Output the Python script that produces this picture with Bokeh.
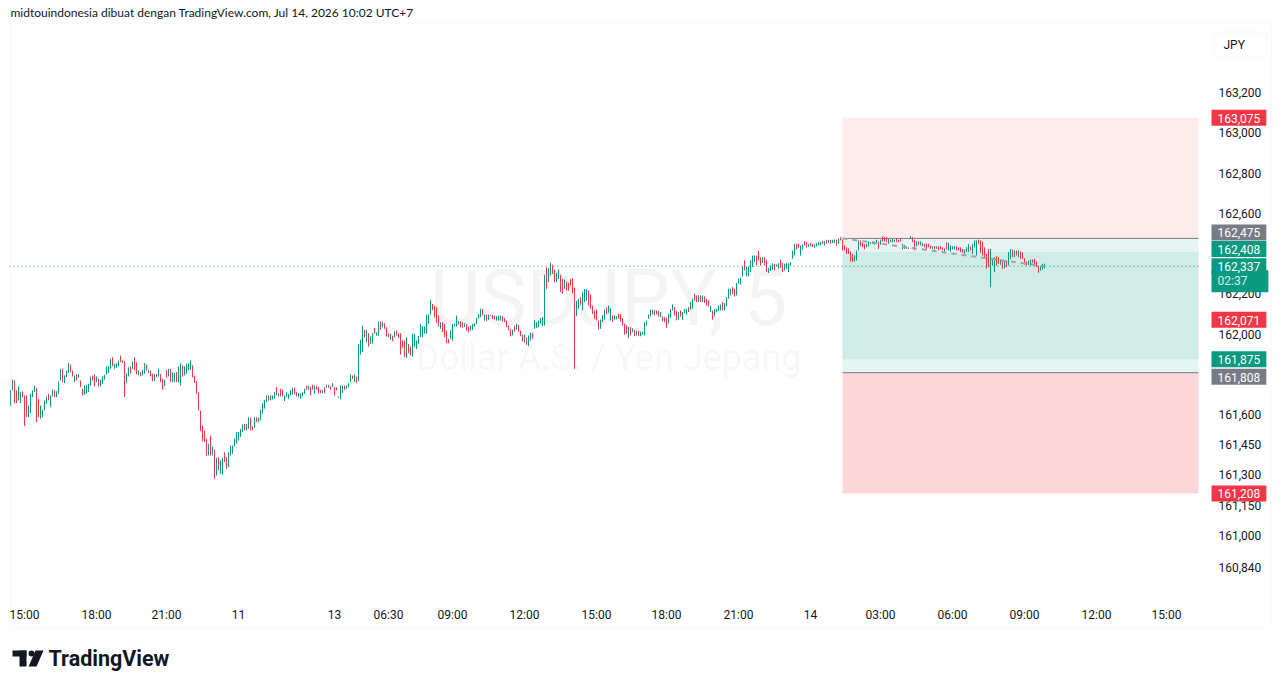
from bokeh.plotting import figure
from bokeh.models import (Range1d, FixedTicker, Label, BoxAnnotation, PolyAnnotation,
                          ColumnDataSource, CustomJSTickFormatter)
from bokeh.embed import file_html
from bokeh.resources import INLINE

# ---------------- data (USDJPY, 5 min) ----------------
highs = [
161.723,161.773,161.769,161.720,161.740,161.711,161.715,161.695,161.695,161.645,
161.703,161.720,161.744,161.733,161.678,161.645,161.624,161.670,161.690,161.703,
161.695,161.725,161.720,161.716,161.764,161.827,161.827,161.794,161.819,161.857,
161.849,161.819,161.794,161.802,161.799,161.769,161.728,161.744,161.748,161.753,
161.789,161.794,161.799,161.789,161.778,161.773,161.789,161.797,161.839,161.839,
161.877,161.885,161.852,161.855,161.869,161.893,161.869,161.865,161.806,161.835,
161.839,161.865,161.885,161.860,161.819,161.811,161.822,161.855,161.849,161.822,
161.819,161.802,161.802,161.802,161.827,161.802,161.778,161.773,161.822,161.827,
161.827,161.811,161.806,161.811,161.839,161.855,161.844,161.839,161.852,161.855,
161.869,161.844,161.794,161.766,161.711,161.620,161.546,161.521,161.480,161.455,
161.496,161.441,161.425,161.385,161.388,161.372,161.385,161.413,161.388,161.413,
161.446,161.446,161.480,161.513,161.513,161.529,161.551,161.554,161.554,161.587,
161.584,161.541,161.587,161.587,161.584,161.624,161.657,161.673,161.695,161.695,
161.695,161.695,161.711,161.736,161.706,161.728,161.723,161.695,161.711,161.703,
161.720,161.733,161.733,161.711,161.706,161.706,161.711,161.728,161.744,161.744,
161.736,161.749,161.744,161.744,161.736,161.723,161.723,161.736,161.748,161.748,
161.740,161.756,161.736,161.736,161.690,161.744,161.744,161.744,161.744,161.756,
161.799,161.794,161.799,161.789,161.951,161.971,162.042,162.021,162.021,162.004,
161.988,162.004,162.031,162.009,162.062,162.062,162.062,162.054,162.034,162.004,
162.001,161.992,162.014,162.017,162.004,162.004,161.968,161.968,161.984,161.951,
161.938,162.001,162.001,161.968,161.992,162.050,162.037,162.037,162.097,162.097,
162.170,162.150,162.141,162.133,162.092,162.059,162.059,162.050,162.017,161.976,
162.017,162.050,162.050,162.092,162.064,162.064,162.059,162.054,162.050,162.037,
162.042,162.050,162.054,162.080,162.100,162.125,162.125,162.097,162.097,162.097,
162.095,162.095,162.092,162.089,162.092,162.092,162.089,162.079,162.067,162.042,
162.026,162.022,162.042,162.051,162.046,162.017,161.996,161.996,161.984,161.993,
162.006,162.006,162.067,162.059,162.067,162.079,162.084,162.294,162.332,162.327,
162.354,162.344,162.320,162.304,162.320,162.294,162.274,162.271,162.261,162.254,
162.274,162.277,162.230,162.166,162.175,162.183,162.208,162.224,162.224,162.216,
162.195,162.142,162.117,162.122,162.067,162.072,162.095,162.122,162.133,162.142,
162.128,162.092,162.092,162.089,162.100,162.100,162.079,162.051,162.042,162.034,
162.034,162.029,162.022,162.017,162.017,162.012,162.012,162.059,162.067,162.097,
162.122,162.121,162.117,162.117,162.114,162.109,162.087,162.084,162.081,162.101,
162.125,162.147,162.134,162.114,162.109,162.117,162.109,162.125,162.125,162.134,
162.159,162.175,162.200,162.192,162.192,162.192,162.192,162.187,162.175,162.167,
162.142,162.117,162.125,162.125,162.142,162.147,162.159,162.154,162.183,162.225,
162.225,162.233,162.225,162.253,162.275,162.280,162.336,162.366,162.333,162.336,
162.366,162.390,162.390,162.390,162.412,162.382,162.382,162.382,162.369,162.329,
162.341,162.352,162.349,162.346,162.352,162.369,162.352,162.349,162.352,162.352,
162.357,162.415,162.448,162.448,162.448,162.440,162.445,162.462,162.457,162.448,
162.452,162.448,162.445,162.452,162.457,162.457,162.462,162.462,162.468,162.468,
162.468,162.468,162.470,162.470,162.475,162.481,162.469,162.443,162.431,162.426,
162.410,162.398,162.390,162.415,162.465,162.465,162.453,162.448,162.448,162.460,
162.456,162.460,162.460,162.469,162.460,162.469,162.486,162.481,162.481,162.473,
162.469,162.473,162.469,162.476,162.469,162.473,162.448,162.443,162.436,162.431,
162.486,162.481,162.469,162.460,162.460,162.460,162.453,162.448,162.448,162.448,
162.440,162.436,162.436,162.436,162.436,162.436,162.431,162.426,162.456,162.453,
162.440,162.436,162.436,162.436,162.431,162.431,162.423,162.420,162.431,162.448,
162.436,162.448,162.465,162.465,162.469,162.465,162.460,162.431,162.398,162.423,
162.423,162.373,162.382,162.387,162.382,162.370,162.365,162.365,162.365,162.407,
162.423,162.420,162.415,162.415,162.415,162.410,162.407,162.377,162.360,162.365,
162.370,162.370,162.373,162.360,162.340,162.337,162.349,162.349]

lows = [
161.642,161.720,161.657,161.657,161.670,161.657,161.686,161.542,161.587,161.587,
161.607,161.686,161.711,161.562,161.587,161.579,161.587,161.620,161.653,161.670,
161.637,161.690,161.686,161.686,161.703,161.769,161.761,161.756,161.786,161.806,
161.811,161.789,161.761,161.769,161.783,161.736,161.695,161.698,161.703,161.711,
161.744,161.769,161.740,161.761,161.740,161.740,161.753,161.773,161.799,161.806,
161.827,161.839,161.827,161.832,161.839,161.860,161.855,161.686,161.756,161.789,
161.802,161.827,161.819,161.799,161.794,161.789,161.794,161.802,161.819,161.806,
161.789,161.766,161.766,161.786,161.789,161.761,161.723,161.740,161.783,161.789,
161.761,161.761,161.761,161.761,161.761,161.744,161.789,161.794,161.802,161.819,
161.822,161.786,161.756,161.703,161.620,161.518,161.468,161.463,161.397,161.397,
161.397,161.397,161.281,161.297,161.322,161.306,161.302,161.364,161.330,161.339,
161.397,161.405,161.441,161.455,161.471,161.488,161.513,161.521,161.521,161.529,
161.521,161.521,161.534,161.562,161.562,161.571,161.604,161.629,161.662,161.670,
161.670,161.675,161.678,161.695,161.690,161.690,161.690,161.667,161.686,161.677,
161.695,161.700,161.700,161.690,161.686,161.677,161.690,161.703,161.723,161.723,
161.695,161.723,161.703,161.723,161.706,161.706,161.706,161.706,161.733,161.733,
161.723,161.736,161.695,161.720,161.683,161.675,161.706,161.723,161.728,161.736,
161.761,161.777,161.761,161.756,161.766,161.898,161.910,161.984,161.959,161.938,
161.951,161.954,162.001,161.992,161.992,162.021,162.034,162.026,161.988,161.984,
161.971,161.964,161.984,161.992,161.981,161.898,161.931,161.885,161.880,161.905,
161.893,161.888,161.935,161.926,161.951,161.984,161.984,162.001,162.001,162.050,
162.097,162.120,162.084,162.054,162.037,162.026,162.009,161.984,161.954,161.954,
161.976,161.968,162.037,162.037,162.047,162.034,162.031,162.034,162.017,162.009,
162.017,162.021,162.037,162.050,162.075,162.084,162.092,162.067,162.064,162.070,
162.089,162.075,162.072,162.067,162.067,162.067,162.062,162.059,162.034,162.017,
161.988,161.993,162.012,162.022,162.012,161.989,161.963,161.956,161.946,161.940,
161.968,161.976,162.026,162.029,162.034,162.051,162.039,162.042,162.224,162.258,
162.291,162.299,162.258,162.258,162.274,162.208,162.200,162.224,162.216,162.216,
162.241,162.200,161.827,162.089,162.125,162.145,162.117,162.158,162.166,162.142,
162.125,162.100,162.075,162.067,162.022,162.026,162.059,162.072,162.100,162.105,
162.067,162.059,162.072,162.072,162.075,162.062,162.042,161.996,162.001,161.979,
161.993,162.009,161.989,161.993,161.989,161.989,161.996,161.993,162.042,162.076,
162.087,162.097,162.092,162.097,162.087,162.084,162.064,162.059,162.031,162.051,
162.081,162.117,162.092,162.068,162.071,162.087,162.071,162.104,162.097,162.109,
162.121,162.125,162.167,162.159,162.159,162.159,162.159,162.154,162.142,162.137,
162.109,162.071,162.087,162.109,162.114,162.117,162.117,162.117,162.137,162.175,
162.192,162.200,162.187,162.192,162.250,162.246,162.286,162.316,162.286,162.286,
162.308,162.333,162.357,162.341,162.366,162.341,162.352,162.341,162.308,162.303,
162.313,162.319,162.316,162.336,162.324,162.329,162.308,162.316,162.324,162.308,
162.341,162.374,162.390,162.419,162.429,162.390,162.419,162.440,162.429,162.432,
162.435,162.432,162.429,162.435,162.440,162.440,162.448,162.440,162.448,162.452,
162.448,162.452,162.452,162.440,162.448,162.465,162.415,162.415,162.398,162.398,
162.360,162.357,162.360,162.365,162.415,162.436,162.431,162.420,162.431,162.436,
162.448,162.448,162.443,162.448,162.423,162.443,162.460,162.460,162.456,162.448,
162.456,162.456,162.456,162.456,162.456,162.460,162.420,162.423,162.423,162.423,
162.473,162.456,162.415,162.436,162.443,162.440,162.436,162.431,162.420,162.431,
162.423,162.423,162.420,162.423,162.415,162.420,162.415,162.410,162.420,162.415,
162.410,162.420,162.420,162.415,162.415,162.407,162.403,162.398,162.407,162.407,
162.415,162.398,162.431,162.390,162.448,162.403,162.390,162.373,162.324,162.332,
162.233,162.340,162.307,162.340,162.349,162.344,162.324,162.327,162.332,162.340,
162.373,162.382,162.382,162.390,162.382,162.373,162.373,162.344,162.340,162.344,
162.340,162.354,162.337,162.332,162.304,162.315,162.320,162.327]

# U = close above open (teal), D = close below open (red)
directions = "".join([
"UUDDUUDDDU", "UUUDDUUUUD", "UUDUUUDUUU", "DDUDUDDUUU", "UDDUDUUUUU",
"UDUUUDDDUU", "DUDDUDUUDU", "DDUDUDDUDU", "DUUDUUDUUU", "UDDDDDDDDU",
"DUDUDUUDDU", "UUUUUUUDUU", "DDUDUUUUUD", "UUUDUDDUUU", "UUDDUUUUDU",
"DDUDDDUDUD", "DUDDDUUDUU", "UDUDUUUDUD", "UUDUUDUDDD", "UDUDDDDDUD",
"DUUUUUUUUU", "UDDDDUDDDD", "UUUUUDDUDD", "UUUUUUDUDU", "DDDUUUDDDD",
"DUDUDDDUDU", "UDUUUUUUDU", "UDDUUDDUDD", "DDDUUDUUUD", "DDDDDUUUDU",
"UDUUDDDDDU", "DUDUDUUUUU", "UDUDDUDDDU", "UUDDUDUUUD", "UUDDUDUDDD",
"UDUUUUDUUU", "UDDUUUUDUU", "UUUDDDUDDU", "UUDUUDDUUU", "UUUDDUUDDU",
"DDUUUUDUDU", "DUUDUDDDDD", "DDUUUDDDUU", "UUUUDUDDDU", "DUUDDDUUDD",
"UDDUDUUDDD", "DUDUDDDUDU", "UUUDDDDUUU", "DUUUDDDDDD", "UUUDDUDUDU",
"UDUDUDDDDU", "UDDDDUUU"])

time_tick_bars = [7, 43, 78, 114, 162, 189, 221, 257, 293, 328, 364, 400, 435, 471, 507, 543, 578]
time_tick_labels = ["15:00", "18:00", "21:00", "11", "13", "06:30", "09:00", "12:00", "15:00",
                    "18:00", "21:00", "14", "03:00", "06:00", "09:00", "12:00", "15:00"]
price_ticks = [163.2, 163.0, 162.8, 162.6, 162.2, 162.0, 161.6, 161.45, 161.3, 161.15, 161.0, 160.84]

current_price = 162.337
countdown = "02:37"
short_entry, short_stop, short_target = 162.475, 163.075, 161.875
long_entry, long_stop, long_target = 161.808, 161.208, 162.408
other_level = 162.071
position_start_bar = 416

symbol_text = "USDJPY, 5"
symbol_desc = "Dollar A.S. / Yen Jepang"
header_text = "midtouindonesia dibuat dengan TradingView.com, Jul 14, 2026 10:02 UTC+7"

# ---------------- styling ----------------
UP = "#089981"
DOWN = "#f23645"
GRAY = "#787b86"
TEXT = "#131722"
FONT = "Roboto"

W, H = 1281, 688
X0 = -5.0               # bar-unit value at the canvas left edge (2 px per bar)
PANE_START = -0.5       # left edge of the price pane (bar units)
PANE_END = 594.0        # right edge of the price pane, where the price scale begins

n = min(len(highs), len(lows), len(directions))
xs = list(range(n))
bar_colors = [UP if d == "U" else DOWN for d in directions[:n]]

# the frame spans the whole canvas so that every annotation can be drawn
p = figure(width=W, height=H, output_backend="svg", toolbar_location=None, title=None,
           x_range=Range1d(X0, X0 + W / 2), y_range=Range1d(160.239, 163.657),
           y_axis_location="right",
           min_border_left=0, min_border_right=0, min_border_top=0, min_border_bottom=0)
p.outline_line_color = None
p.background_fill_color = "white"
p.border_fill_color = "white"
p.xgrid.grid_line_color = None
p.ygrid.grid_line_color = None

for ax in (p.xaxis[0], p.yaxis[0]):
    ax.axis_line_color = None
    ax.major_tick_line_color = None
    ax.minor_tick_line_color = None
    ax.major_tick_out = 0
    ax.major_tick_in = 0
    ax.major_label_text_font = FONT
    ax.major_label_text_font_size = "12px"
    ax.major_label_text_color = TEXT

p.xaxis.ticker = FixedTicker(ticks=time_tick_bars)
p.xaxis.formatter = CustomJSTickFormatter(
    args=dict(tick_bars=time_tick_bars, tick_labels=time_tick_labels),
    code="const i = tick_bars.indexOf(Math.round(tick)); return i >= 0 ? tick_labels[i] : '';")
p.xaxis.major_label_standoff = -81

p.yaxis.ticker = FixedTicker(ticks=price_ticks)
p.yaxis.formatter = CustomJSTickFormatter(code="return tick.toFixed(3).replace('.', ',');")
p.yaxis.major_label_standoff = -63

# watermark
p.add_layout(Label(x=608, y=298, x_units="canvas", y_units="canvas", text=symbol_text,
                   text_font=FONT, text_font_size="78px", text_color="#000000", text_alpha=0.045,
                   text_align="center", text_baseline="middle", level="underlay"))
p.add_layout(Label(x=608, y=357, x_units="canvas", y_units="canvas", text=symbol_desc,
                   text_font=FONT, text_font_size="36px", text_color="#000000", text_alpha=0.045,
                   text_align="center", text_baseline="middle", level="underlay"))

# position tools (short on top, long below)
zones = ColumnDataSource(dict(
    left=[position_start_bar] * 4,
    right=[PANE_END] * 4,
    bottom=[short_entry, short_target, long_entry, long_stop],
    top=[short_stop, short_entry, long_target, long_entry],
    color=[DOWN, UP, UP, DOWN],
    alpha=[0.1, 0.1, 0.1, 0.2],
))
p.quad(left="left", right="right", bottom="bottom", top="top", fill_color="color",
       fill_alpha="alpha", line_color=None, source=zones)
p.segment(x0=[position_start_bar] * 2, x1=[PANE_END] * 2, y0=[short_entry, long_entry],
          y1=[short_entry, long_entry], line_color=GRAY, line_width=1)

# bars
p.segment(x0=xs, x1=xs, y0=lows[:n], y1=highs[:n], line_color=bar_colors, line_width=1)

# dashed line entry -> current
p.line([position_start_bar, n - 1], [short_entry, current_price], line_color="#9fa2ab",
       line_width=2, line_dash="5 5")

# current price line across the pane
p.segment(x0=[PANE_START], x1=[PANE_END], y0=[current_price], y1=[current_price],
          line_color=UP, line_dash="1 3", line_width=1)


def fmt(v):
    return f"{v:.3f}".replace(".", ",")


tags = [
    (short_stop, DOWN, 0),
    (short_entry, GRAY, 6),
    (long_target, UP, 3),
    (other_level, DOWN, 0),
    (short_target, UP, 0),
    (long_entry, GRAY, -4),
    (long_stop, DOWN, 0),
]
PAD = dict(left=6, right=6, top=4, bottom=3)
TAG_X = 1211
for price, col, off in tags:
    p.add_layout(Label(x=TAG_X, x_units="canvas", y=price, y_units="data", text=fmt(price),
                       y_offset=off, text_font=FONT, text_font_size="12px", text_color="white",
                       text_align="left", text_baseline="middle", background_fill_color=col,
                       padding=PAD))
p.add_layout(Label(x=TAG_X, x_units="canvas", y=current_price, y_units="data", text=countdown,
                   y_offset=-15, text_font=FONT, text_font_size="12px", text_color="#d8f0ec",
                   text_align="left", text_baseline="middle", background_fill_color=UP,
                   padding=dict(left=6, right=21, top=4, bottom=4)))
p.add_layout(Label(x=TAG_X, x_units="canvas", y=current_price, y_units="data", text=fmt(current_price),
                   text_font=FONT, text_font_size="12px", text_color="white",
                   text_align="left", text_baseline="middle", background_fill_color=UP,
                   padding=PAD))

# outer chart border and currency box
p.add_layout(BoxAnnotation(left=10.5, right=1270.5, top=22.5, bottom=627.5,
                           left_units="canvas", right_units="canvas", top_units="canvas",
                           bottom_units="canvas", fill_color=None, line_color="#e0e3eb",
                           line_width=1, level="overlay"))
p.add_layout(BoxAnnotation(left=1213.5, right=1266.5, top=31.5, bottom=56.5,
                           left_units="canvas", right_units="canvas", top_units="canvas",
                           bottom_units="canvas", fill_color="white", fill_alpha=1,
                           line_color="#e0e3eb", line_width=1, border_radius=4))
p.add_layout(Label(x=1223, y=44, x_units="canvas", y_units="canvas", text="JPY",
                   text_font=FONT, text_font_size="12px", text_color=TEXT,
                   text_align="left", text_baseline="middle"))

# header
p.add_layout(Label(x=10, y=12, x_units="canvas", y_units="canvas", text=header_text,
                   text_font="Lato", text_font_size="12px", text_color=TEXT,
                   text_align="left", text_baseline="middle"))

# TradingView logo
for l_, r_, t_, b_ in [(12, 26, 650, 656), (19, 26, 650, 666)]:
    p.add_layout(BoxAnnotation(left=l_, right=r_, top=t_, bottom=b_,
                               left_units="canvas", right_units="canvas", top_units="canvas",
                               bottom_units="canvas", fill_color=TEXT, fill_alpha=1,
                               line_color=None))
p.add_layout(BoxAnnotation(left=28, right=34, top=650, bottom=656,
                           left_units="canvas", right_units="canvas", top_units="canvas",
                           bottom_units="canvas", fill_color=TEXT, fill_alpha=1,
                           line_color=None, border_radius=3))
p.add_layout(PolyAnnotation(xs=[35, 43, 36, 28], ys=[650, 650, 666, 666],
                            xs_units="canvas", ys_units="canvas", fill_color=TEXT,
                            fill_alpha=1, line_color=None))
p.add_layout(Label(x=48, y=658, x_units="canvas", y_units="canvas", text="TradingView",
                   text_font=FONT, text_font_size="21.5px", text_font_style="bold",
                   text_color=TEXT, text_align="left", text_baseline="middle"))

open("out.html", "w").write(file_html(p, INLINE))
